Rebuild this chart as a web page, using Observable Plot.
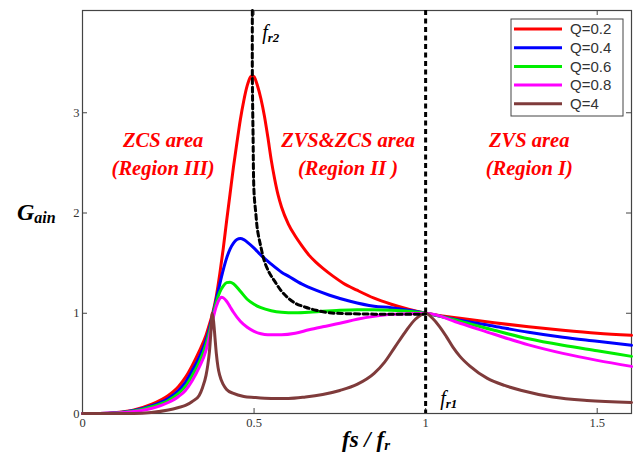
<!DOCTYPE html>
<html><head><meta charset="utf-8">
<script src="https://cdn.jsdelivr.net/npm/d3@7"></script>
<script src="https://cdn.jsdelivr.net/npm/@observablehq/plot@0.6"></script>
<style>body{margin:0;background:#fff} svg{display:block}</style>
</head><body><div id="chart"></div>
<script>
// ---- data ----
const seriesNames = ["Q=0.2", "Q=0.4", "Q=0.6", "Q=0.8", "Q=4"];
const seriesColors = ["#ff0000", "#0000ff", "#00ee00", "#ff00ff", "#7f3b3b"];

const xQ02 = [0,0.05,0.10,0.15,0.20,0.25,0.28,0.30,0.32,0.34,0.36,0.37,0.38,0.39,0.40,0.41,0.42,0.43,0.44,0.45,0.46,0.47,0.48,0.49,0.495,0.50,0.51,0.52,0.53,0.54,0.55,0.56,0.57,0.58,0.60,0.62,0.64,0.66,0.68,0.70,0.73,0.76,0.80,0.85,0.90,0.95,1.0,1.1,1.2,1.3,1.4,1.5,1.6];
const yQ02 = [0,0,0.01,0.035,0.09,0.18,0.27,0.36,0.48,0.62,0.78,0.89,1.01,1.17,1.39,1.64,1.92,2.19,2.46,2.70,2.93,3.12,3.27,3.36,3.37,3.36,3.27,3.14,2.97,2.76,2.53,2.34,2.18,2.06,1.89,1.77,1.67,1.58,1.51,1.45,1.37,1.30,1.23,1.15,1.09,1.04,1.0,0.95,0.905,0.865,0.83,0.80,0.78];

const xQ04 = [0,0.05,0.10,0.15,0.20,0.25,0.28,0.30,0.32,0.34,0.36,0.37,0.38,0.39,0.40,0.41,0.42,0.43,0.44,0.45,0.46,0.47,0.48,0.50,0.52,0.55,0.58,0.60,0.64,0.68,0.72,0.78,0.85,0.90,0.95,1.0,1.1,1.2,1.3,1.4,1.5,1.6];
const yQ04 = [0,0,0.008,0.03,0.075,0.15,0.23,0.31,0.43,0.56,0.73,0.85,0.99,1.14,1.29,1.43,1.55,1.64,1.70,1.735,1.745,1.735,1.71,1.65,1.58,1.49,1.41,1.37,1.29,1.23,1.18,1.12,1.07,1.055,1.03,1.0,0.93,0.87,0.81,0.76,0.72,0.68];

const xQ06 = [0,0.05,0.10,0.15,0.20,0.25,0.28,0.30,0.32,0.34,0.36,0.37,0.38,0.39,0.40,0.41,0.42,0.43,0.44,0.46,0.48,0.50,0.52,0.55,0.58,0.62,0.66,0.70,0.75,0.80,0.85,0.90,0.95,1.0,1.1,1.2,1.3,1.4,1.5,1.6];
const yQ06 = [0,0,0.006,0.025,0.065,0.13,0.20,0.27,0.38,0.51,0.69,0.82,0.97,1.11,1.21,1.27,1.305,1.31,1.295,1.22,1.14,1.09,1.055,1.025,1.01,1.005,1.01,1.02,1.03,1.035,1.035,1.03,1.02,1.0,0.92,0.83,0.745,0.68,0.625,0.57];

const xQ08 = [0,0.05,0.10,0.15,0.20,0.25,0.28,0.30,0.32,0.34,0.36,0.37,0.38,0.39,0.40,0.405,0.41,0.42,0.43,0.44,0.46,0.48,0.50,0.52,0.54,0.58,0.62,0.66,0.70,0.75,0.80,0.85,0.90,0.95,1.0,1.1,1.2,1.3,1.4,1.5,1.6];
const yQ08 = [0,0,0.004,0.02,0.05,0.11,0.17,0.23,0.33,0.46,0.63,0.77,0.94,1.07,1.145,1.16,1.155,1.12,1.065,1.01,0.92,0.86,0.82,0.795,0.785,0.785,0.80,0.835,0.865,0.90,0.94,0.97,0.99,0.995,1.0,0.90,0.79,0.685,0.60,0.53,0.47];

const xQ4 = [0,0.15,0.20,0.25,0.28,0.30,0.32,0.34,0.35,0.36,0.365,0.37,0.375,0.378,0.382,0.386,0.39,0.395,0.40,0.41,0.42,0.44,0.47,0.50,0.55,0.60,0.65,0.70,0.75,0.80,0.85,0.88,0.91,0.94,0.97,1.0,1.02,1.04,1.06,1.08,1.10,1.13,1.18,1.23,1.28,1.37,1.47,1.6];
const yQ4 = [0,0,0.01,0.035,0.06,0.08,0.12,0.18,0.26,0.38,0.48,0.62,0.85,1.0,0.92,0.76,0.60,0.46,0.38,0.29,0.24,0.20,0.17,0.16,0.15,0.15,0.165,0.19,0.23,0.29,0.40,0.51,0.66,0.81,0.94,1.0,0.95,0.87,0.77,0.66,0.57,0.47,0.35,0.28,0.23,0.165,0.13,0.11];

// fr2 boundary (dashed)
const xFr2 = [0.495,0.495,0.497,0.50,0.505,0.51,0.52,0.53,0.545,0.56,0.58,0.60,0.62,0.65,0.68,0.72,0.78,0.90,1.0];
const yFr2 = [4.02,3.37,2.80,2.20,2.00,1.83,1.66,1.52,1.40,1.32,1.22,1.15,1.10,1.06,1.03,1.005,0.995,0.99,0.99];
const fr1 = [1];

const xTicks = [0, 0.5, 1, 1.5];
const xTickLabels = ["0", "0.5", "1", "1.5"];
const yTicks = [0, 1, 2, 3];
const yTickLabels = ["0", "1", "2", "3"];

const regionText = ["ZCS area\n(Region III)", "ZVS&ZCS area\n(Region II )", "ZVS area\n(Region I)"];
const regionX = [0.235, 0.774, 1.302];
const regionY = [2.61, 2.61, 2.61];

// ---- build tables ----
const xs = [xQ02, xQ04, xQ06, xQ08, xQ4];
const ys = [yQ02, yQ04, yQ06, yQ08, yQ4];
const curves = seriesNames.flatMap((name, k) => xs[k].map((x, i) => ({name, x, y: ys[k][i]})));
const fr2 = xFr2.map((x, i) => ({x, y: yFr2[i]}));
const regions = regionText.map((t, i) => ({t, x: regionX[i], y: regionY[i]}));

const W = 639, H = 459, mL = 82, mR = 8, mT = 10, mB = 46;
const fw = W - mL - mR, fh = H - mT - mB;
const serif = "'Liberation Serif', 'Times New Roman', serif";

const plot = Plot.plot({
  width: W, height: H,
  marginLeft: mL, marginRight: mR, marginTop: mT, marginBottom: mB,
  x: {domain: [0, 1.6]},
  y: {domain: [0, 4.02]},
  color: {domain: seriesNames, range: seriesColors},
  style: {fontFamily: serif, fontSize: "12px", color: "#333", background: "white"},
  marks: [
    Plot.axisX(xTicks, {tickSize: 0, tickPadding: 5, fontSize: 12.5, tickFormat: d => xTickLabels[xTicks.indexOf(d)], label: null}),
    Plot.axisY(yTicks, {tickSize: 0, tickPadding: 3, fontSize: 12.5, tickFormat: d => yTickLabels[yTicks.indexOf(d)], label: null}),
    Plot.tickX(xTicks, {x: d => d, insetTop: fh - 5, stroke: "#444"}),
    Plot.tickX(xTicks, {x: d => d, insetBottom: fh - 5, stroke: "#444"}),
    Plot.tickY(yTicks, {y: d => d, insetRight: fw - 5, stroke: "#444"}),
    Plot.tickY(yTicks, {y: d => d, insetLeft: fw - 5, stroke: "#444"}),
    Plot.frame({stroke: "#444", strokeWidth: 1.2}),
    Plot.text(regions, {x: "x", y: "y", text: "t", fill: "#ff0000", fontFamily: serif, fontWeight: "bold", fontStyle: "italic", fontSize: 20.5, lineHeight: 1.37, lineAnchor: "middle"}),
    Plot.line(curves, {x: "x", y: "y", z: "name", stroke: "name", strokeWidth: 3, curve: "monotone-x"}),
    Plot.ruleX(fr1, {stroke: "black", strokeWidth: 3, strokeDasharray: "5,3.5"}),
    Plot.line(fr2, {x: "x", y: "y", stroke: "black", strokeWidth: 3, strokeDasharray: "5,3.5", curve: "catmull-rom"})
  ]
});

document.getElementById("chart").appendChild(plot);
const svg = d3.select(plot);
const sx = plot.scale("x"), sy = plot.scale("y");

function rich(x, y, parts, anchor) {
  const t = svg.append("text").attr("x", x).attr("y", y)
    .attr("font-family", serif).attr("fill", "black").attr("text-anchor", anchor || "start");
  parts.forEach(p => {
    const s = t.append("tspan").text(p.text).attr("font-size", p.size)
      .attr("font-weight", p.weight || "bold").attr("font-style", "italic");
    if (p.dy) s.attr("dy", p.dy);
  });
}
// f_r2 and f_r1 labels
rich(sx.apply(0.525), sy.apply(3.73), [{text: "f", size: 20, weight: "normal"}, {text: "r2", size: 13, dy: 3}]);
rich(sx.apply(1.044), sy.apply(0.08), [{text: "f", size: 20, weight: "normal"}, {text: "r1", size: 13, dy: 3}]);
// axis titles
rich(17, sy.apply(1.93), [{text: "G", size: 24}, {text: "ain", size: 16, dy: 3}]);
rich(366, 447, [{text: "fs / f", size: 23}, {text: "r", size: 15, dy: 3}], "middle");

// legend
const lx = mL + fw - 8 - 112, ly = mT + 9;
const lg = svg.append("g").attr("text-anchor", "start");
lg.append("rect").attr("x", lx).attr("y", ly).attr("width", 112).attr("height", 97)
  .attr("fill", "white").attr("stroke", "#444").attr("stroke-width", 1);
seriesNames.forEach((n, i) => {
  const yy = ly + 10 + i * 18.7;
  lg.append("line").attr("x1", lx + 3).attr("x2", lx + 51).attr("y1", yy).attr("y2", yy)
    .attr("stroke", seriesColors[i]).attr("stroke-width", 3);
  lg.append("text").attr("x", lx + 59).attr("y", yy).attr("dy", "0.35em")
    .attr("text-anchor", "start")
    .attr("font-family", "'Liberation Sans', Arial, sans-serif").attr("font-size", 15)
    .attr("fill", "#333").text(n);
});
</script>
</body></html>
